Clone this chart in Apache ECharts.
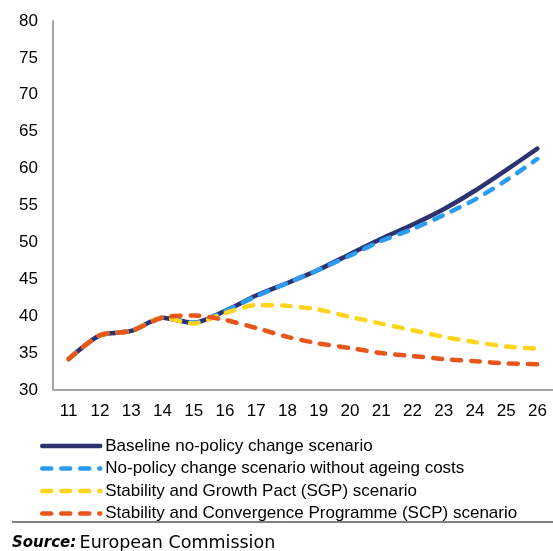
<!DOCTYPE html>
<html lang="en">
<head>
<meta charset="utf-8">
<title>Debt scenarios</title>
<script src="https://cdn.jsdelivr.net/npm/echarts@6/dist/echarts.min.js"></script>
<style>
  html, body { margin: 0; padding: 0; background: #fff; }
  #chart { width: 553px; height: 551px; }
</style>
</head>
<body>
<div id="chart"></div>
<script>
// years (x axis)
var years = ['11','12','13','14','15','16','17','18','19','20','21','22','23','24','25','26'];

// series values
var baseline = [34.2, 37.4, 38.0, 39.8, 39.1, 40.7, 42.8, 44.5, 46.3, 48.4, 50.5, 52.4, 54.5, 57.0, 59.8, 62.7];
var noAgeing = [34.2, 37.4, 38.0, 39.8, 39.1, 40.7, 42.7, 44.5, 46.3, 48.2, 50.2, 51.8, 53.7, 55.8, 58.4, 61.3];
var sgp      = [34.2, 37.4, 38.0, 39.8, 39.0, 40.4, 41.5, 41.4, 40.9, 39.9, 39.0, 38.1, 37.2, 36.5, 35.9, 35.6];
var scp      = [34.2, 37.4, 38.0, 39.8, 40.1, 39.5, 38.4, 37.2, 36.3, 35.7, 35.0, 34.6, 34.2, 33.9, 33.6, 33.5];

var names = [
  'Baseline no-policy change scenario',
  'No-policy change scenario without ageing costs',
  'Stability and Growth Pact (SGP) scenario',
  'Stability and Convergence Programme (SCP) scenario'
];

var FONT = 'Liberation Sans';
var myChart = echarts.init(document.getElementById('chart'));

function line(name, data, color, dashed) {
  return {
    name: name,
    type: 'line',
    data: data,
    smooth: 0.25,
    symbol: 'none',
    lineStyle: {
      color: color,
      width: 4.5,
      type: dashed ? [9, 10] : 'solid',
      cap: 'round'
    },
    itemStyle: { color: color }
  };
}

var option = {
  animation: false,
  grid: { left: 53, right: 0, top: 21, bottom: 161 },
  xAxis: {
    type: 'category',
    data: years,
    boundaryGap: true,
    axisLine: { lineStyle: { color: '#a6a6a6', width: 2 } },
    axisTick: { show: false },
    axisLabel: { color: '#000', fontSize: 17, fontFamily: FONT, margin: 13 }
  },
  yAxis: {
    type: 'value',
    min: 30,
    max: 80,
    interval: 5,
    splitLine: { show: false },
    axisLine: { show: true, lineStyle: { color: '#a6a6a6', width: 2 } },
    axisTick: { show: false },
    axisLabel: { color: '#000', fontSize: 17, fontFamily: FONT, margin: 15 }
  },
  legend: {
    orient: 'vertical',
    left: 40,
    top: 437.5,
    padding: 0,
    itemWidth: 58,
    itemHeight: 4,
    itemGap: 5.5,
    data: names,
    itemStyle: { opacity: 0 },
    lineStyle: { width: 4.5, type: 'inherit', cap: 'round' },
    textStyle: { color: '#000', fontSize: 17, fontFamily: FONT }
  },
  // baseline at the bottom, dashed scenarios drawn over it
  series: [
    line(names[0], baseline, '#2d3271', false),
    line(names[1], noAgeing, '#2b9cf2', true),
    line(names[2], sgp, '#ffd41c', true),
    line(names[3], scp, '#e8561c', true)
  ],
  graphic: [
    {
      type: 'line',
      shape: { x1: 12, y1: 522, x2: 553, y2: 522 },
      style: { stroke: '#000', lineWidth: 1 }
    },
    {
      type: 'text',
      left: 12,
      top: 534,
      style: {
        text: '{b|Source:} {r|European Commission}',
        rich: {
          b: { font: 'italic bold 15px "DejaVu Sans"', fill: '#000' },
          r: { font: '17.5px "DejaVu Sans"', fill: '#000' }
        }
      }
    }
  ]
};

myChart.setOption(option);
</script>
</body>
</html>
